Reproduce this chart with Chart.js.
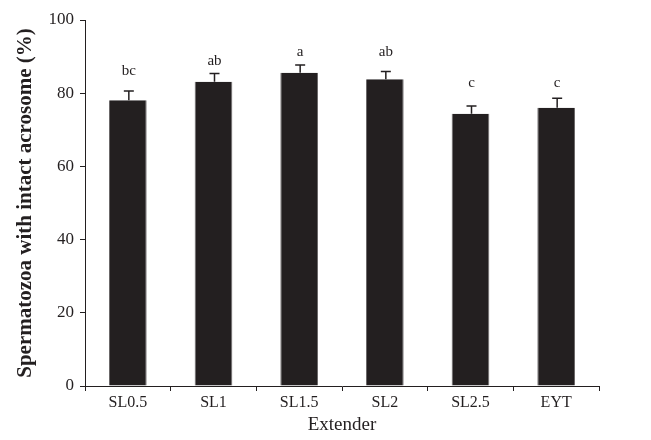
<!DOCTYPE html>
<html>
<head>
<meta charset="utf-8">
<script src="https://cdn.jsdelivr.net/npm/chart.js@4"></script>
<style>
  body { margin: 0; background: #fff; }
</style>
</head>
<body>
<canvas id="chart" width="651" height="440"></canvas>
<script>
const extenders = ['SL0.5', 'SL1', 'SL1.5', 'SL2', 'SL2.5', 'EYT'];
const intact = [78.1, 83.1, 85.6, 83.8, 74.4, 76.0];
const sem = [2.5, 2.3, 2.1, 2.1, 2.1, 2.6];
const letters = ['bc', 'ab', 'a', 'ab', 'c', 'c'];
const letterAt = [85.0, 87.7, 90.2, 90.2, 81.7, 81.7];

const ink = '#231f20';

const errorBars = {
    id: 'errorBars',
    afterDatasetsDraw(chart) {
        const ctx = chart.ctx;
        const x = chart.scales.x, y = chart.scales.y;
        ctx.save();
        ctx.strokeStyle = ink;
        ctx.lineWidth = 1.5;
        ctx.fillStyle = ink;
        ctx.font = '15px "Liberation Serif"';
        ctx.textAlign = 'center';
        ctx.textBaseline = 'alphabetic';
        intact.forEach((v, i) => {
            const cx = x.getPixelForValue(i) + 1;
            const yTop = y.getPixelForValue(v);
            const yErr = y.getPixelForValue(v + sem[i]);
            ctx.beginPath();
            ctx.moveTo(cx, yTop);
            ctx.lineTo(cx, yErr);
            ctx.moveTo(cx - 5, yErr);
            ctx.lineTo(cx + 5, yErr);
            ctx.stroke();
            ctx.fillText(letters[i], cx, y.getPixelForValue(letterAt[i]));
        });
        ctx.restore();
    }
};

new Chart(document.getElementById('chart'), {
    type: 'bar',
    data: {
        labels: extenders,
        datasets: [{
            data: intact,
            backgroundColor: ink,
            borderColor: '#6d6a6b',
            borderWidth: {left: 1, right: 1, top: 0, bottom: 0},
            categoryPercentage: 0.88,
            barPercentage: 0.5
        }]
    },
    options: {
        responsive: false,
        animation: false,
        layout: { padding: { top: 20, right: 52, left: 0, bottom: 0 } },
        plugins: {
            legend: { display: false },
            tooltip: { enabled: false }
        },
        scales: {
            x: {
                grid: { offset: true, drawOnChartArea: false, tickLength: 5, color: ink, lineWidth: 1 },
                border: { color: ink, width: 1 },
                ticks: { color: ink, font: { family: 'Liberation Serif', size: 16 }, padding: 2 },
                title: { display: true, text: 'Extender', color: ink, font: { family: 'Liberation Serif', size: 19 }, padding: { top: 2 } },
                afterFit(s) { s.height = 54; }
            },
            y: {
                min: 0,
                max: 100,
                ticks: { stepSize: 20, color: ink, font: { family: 'Liberation Serif', size: 17 }, padding: 6 },
                grid: { drawOnChartArea: false, tickLength: 5, color: ink, lineWidth: 1 },
                border: { color: ink, width: 1 },
                title: { display: true, text: 'Spermatozoa with intact acrosome (%)', color: ink, font: { family: 'Liberation Serif', size: 21, weight: 'bold' }, padding: { top: 13, bottom: 6 } },
                afterFit(s) { s.width = 85; }
            }
        }
    },
    plugins: [errorBars]
});
</script>
</body>
</html>
